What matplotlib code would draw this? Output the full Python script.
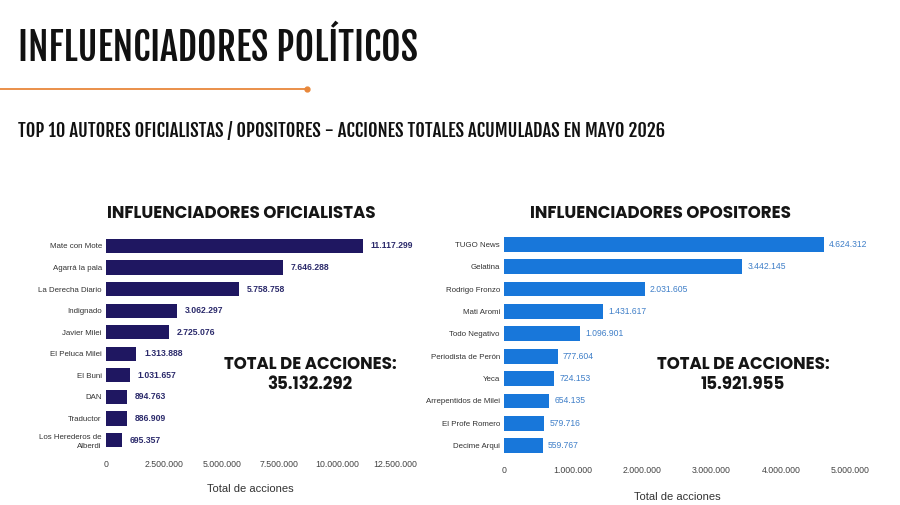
import matplotlib.pyplot as plt
from matplotlib.ticker import FuncFormatter

# data
ofi_names = ["Mate con Mote", "Agarrá la pala", "La Derecha Diario", "Indignado", "Javier Milei",
             "El Peluca Milei", "El Buni", "DAN", "Traductor", "Los Herederos de\nAlberdi"]
ofi_vals = [11117299, 7646288, 5758758, 3062297, 2725076, 1313888, 1031657, 894763, 886909, 695357]
ofi_total = 35132292

opo_names = ["TUGO News", "Gelatina", "Rodrigo Fronzo", "Mati Aromi", "Todo Negativo",
             "Periodista de Perón", "Yeca", "Arrepentidos de Milei", "El Profe Romero", "Decime Arqui"]
opo_vals = [4624312, 3442145, 2031605, 1431617, 1096901, 777604, 724153, 654135, 579716, 559767]
opo_total = 15921955

ofi_ticks = [0, 2500000, 5000000, 7500000, 10000000, 12500000]
opo_ticks = [0, 1000000, 2000000, 3000000, 4000000, 5000000]


def miles(v):
    return f"{int(v):,}".replace(",", ".")


plt.rcParams['font.family'] = ['Liberation Sans', 'DejaVu Sans']
head_font = ["Fjalla One", "DejaVu Sans"]
geo_font = ["Poppins", "Inter", "DejaVu Sans"]

fig = plt.figure(figsize=(9, 5.05), dpi=100)

# header
fig.text(18 / 900, 1 - 48 / 505, "INFLUENCIADORES POLÍTICOS", fontsize=27, family=head_font,
         va="center", ha="left", color="#111111")
fig.add_artist(plt.Line2D([0, 307 / 900], [1 - 89 / 505] * 2, color="#E8873A", lw=1.3))
fig.add_artist(plt.Line2D([307 / 900], [1 - 89 / 505], marker="o", ms=3.5, color="#E8873A"))
fig.text(18 / 900, 1 - 131 / 505,
         "TOP 10 AUTORES OFICIALISTAS / OPOSITORES - ACCIONES TOTALES ACUMULADAS EN MAYO 2026",
         fontsize=13.3, family=head_font, va="center", ha="left", color="#111111")


def panel(rect, names, vals, total, ticks, color, lab_color, lab_weight, title, title_x, total_x,
          xlab_y, pad):
    ax = fig.add_axes(rect)
    y = range(len(names))
    ax.barh(y, vals, height=0.66, color=color)
    ax.set_ylim(len(names) - 0.4, -0.6)
    ax.set_xlim(ticks[0], ticks[-1])
    ax.set_yticks(list(y))
    ax.set_yticklabels(names, fontsize=5.7, color="#333333", linespacing=1.3)
    ax.set_xticks(ticks)
    ax.xaxis.set_major_formatter(FuncFormatter(lambda v, p: miles(v)))
    ax.tick_params(axis="x", labelsize=6.3, colors="#444444", length=0, pad=5)
    ax.tick_params(axis="y", length=0, pad=3)
    for s in ax.spines.values():
        s.set_visible(False)
    for i, v in enumerate(vals):
        ax.text(v + pad, i, miles(v), fontsize=6.2, fontweight=lab_weight, color=lab_color,
                va="center")
    fig.text(title_x, 1 - 214 / 505, title, fontsize=12, fontweight="bold",
             family=geo_font, ha="center", va="center", color="#151515")
    fig.text(total_x, 1 - 375 / 505, "TOTAL DE ACCIONES:\n" + miles(total), fontsize=12,
             fontweight="bold", family=geo_font, ha="center", va="center",
             color="#151515", linespacing=1.1)
    fig.text((rect[0] + rect[0] + rect[2]) / 2, 1 - xlab_y / 505, "Total de acciones",
             fontsize=8, ha="center", va="center", color="#333333")
    return ax


panel([106 / 900, 1 - 453 / 505, 289 / 900, 220 / 505], ofi_names, ofi_vals, ofi_total,
      ofi_ticks, "#1F1761", "#2B2A6B", "bold", "INFLUENCIADORES OFICIALISTAS", 241 / 900, 310 / 900,
      489, 340000)
panel([504 / 900, 1 - 459 / 505, 346 / 900, 228 / 505], opo_names, opo_vals, opo_total,
      opo_ticks, "#1877DA", "#3F7FC8", "normal", "INFLUENCIADORES OPOSITORES", 661 / 900, 743 / 900,
      497, 75000)

fig.savefig("out.png", dpi=100, facecolor="white")
